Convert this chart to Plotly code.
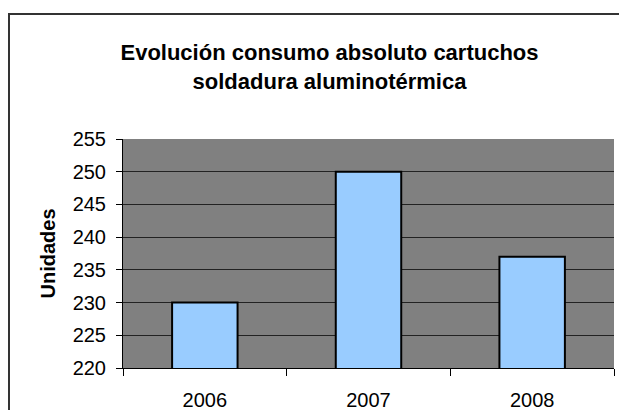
import plotly.graph_objects as go

# values
years = ["2006", "2007", "2008"]
units = [230, 250, 237]

title_lines = ["Evolución consumo absoluto cartuchos", "soldadura aluminotérmica"]
y_title = "Unidades"
y_ticks = [220, 225, 230, 235, 240, 245, 250, 255]

FONT = "Liberation Sans, Arial, sans-serif"

fig = go.Figure(
    go.Bar(
        x=years,
        y=units,
        marker=dict(color="#99CCFF", line=dict(color="#000000", width=2)),
        width=0.4,
        hoverinfo="x+y",
    )
)

# chart-area frame, cropped at the right and bottom like in the reference
fig.add_shape(
    type="rect",
    xref="paper",
    yref="paper",
    x0=-0.2322,
    x1=1.2,
    y0=-0.4,
    y1=1.5459,
    line=dict(color="#333333", width=2),
    layer="below",
)

fig.update_layout(
    width=627,
    height=410,
    margin=dict(l=115, r=21, t=131, b=50),
    paper_bgcolor="white",
    plot_bgcolor="#808080",
    font=dict(family=FONT, size=20, color="black"),
    title=dict(
        text="<b>" + "<br>".join(title_lines) + "</b>",
        font=dict(family=FONT, size=22, color="black"),
        x=0.4206,
        xref="paper",
        xanchor="center",
        y=0.872,
        yref="container",
        yanchor="middle",
    ),
    showlegend=False,
)

fig.update_xaxes(
    type="category",
    automargin=False,
    showline=True,
    linecolor="black",
    linewidth=1,
    ticks="outside",
    tickson="boundaries",
    ticklen=7,
    tickcolor="black",
    showgrid=False,
    tickfont=dict(size=20),
    ticklabelstandoff=14,
)

fig.update_yaxes(
    range=[220, 255],
    tickvals=y_ticks,
    automargin=False,
    showline=True,
    linecolor="black",
    linewidth=1,
    ticks="outside",
    ticklen=6,
    tickcolor="black",
    showgrid=True,
    gridcolor="#222222",
    gridwidth=1,
    zeroline=False,
    tickfont=dict(size=20),
    ticklabelstandoff=6,
    title=dict(text="<b>" + y_title + "</b>", font=dict(size=20), standoff=11),
)

fig.write_html("out.html")
